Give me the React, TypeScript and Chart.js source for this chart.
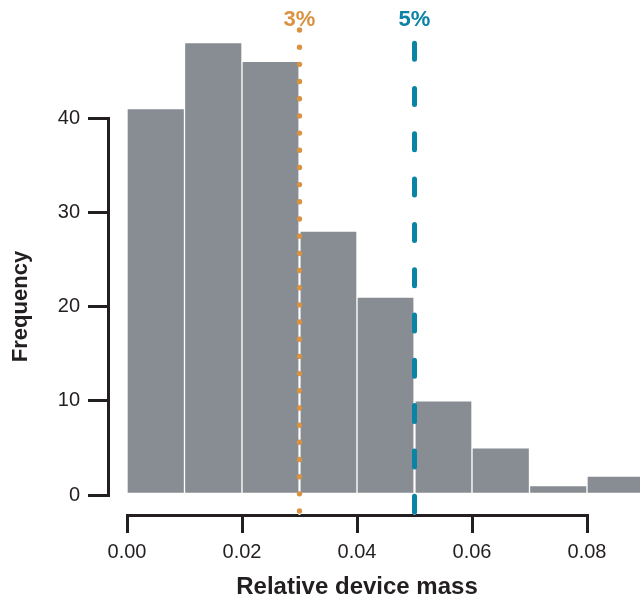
import React, { useEffect, useRef } from 'react';
import { Chart, registerables } from 'chart.js';

Chart.register(...registerables);

// ---- data ----
const BIN_CENTERS = [0.005, 0.015, 0.025, 0.035, 0.045, 0.055, 0.065, 0.075, 0.085];
const FREQUENCY = [41, 48, 46, 28, 21, 10, 5, 1, 2];
const X_TICKS = [0, 0.02, 0.04, 0.06, 0.08];
const Y_TICKS = [0, 10, 20, 30, 40];
const THRESHOLDS = [0.03, 0.05];
const THRESHOLD_LABELS = ['3%', '5%'];

// ---- styles ----
const FONT = "'Liberation Sans', Arial, Helvetica, sans-serif";
const INK = '#231f20';
const BAR = '#878d92';
const THRESHOLD_STYLES = [
  { color: '#da9241', kind: 'dots', step: 17.18, top: 30, bottom: 512 },
  { color: '#0a83a5', kind: 'dash', dash: [16, 29.3], top: 43.2, bottom: 513 },
];

const thresholdPlugin = {
  id: 'thresholds',
  afterDatasetsDraw(chart: any) {
    const { ctx, scales } = chart;
    const xs = scales.x;
    const axisY = xs.top;
    ctx.save();
    THRESHOLDS.forEach((v, i) => {
      const st: any = THRESHOLD_STYLES[i];
      const px = xs.getPixelForValue(v);
      // white underlay
      ctx.beginPath();
      ctx.setLineDash([]);
      ctx.strokeStyle = '#ffffff';
      ctx.lineWidth = 2;
      ctx.moveTo(px, st.top);
      ctx.lineTo(px, axisY);
      ctx.stroke();
      if (st.kind === 'dots') {
        ctx.fillStyle = st.color;
        for (let y = st.top; y <= st.bottom + 0.5; y += st.step) {
          ctx.beginPath();
          ctx.arc(px, y, 2.7, 0, Math.PI * 2);
          ctx.fill();
        }
      } else {
        ctx.beginPath();
        ctx.setLineDash(st.dash);
        ctx.lineCap = 'round';
        ctx.strokeStyle = st.color;
        ctx.lineWidth = 5;
        ctx.moveTo(px, st.top);
        ctx.lineTo(px, st.bottom);
        ctx.stroke();
        ctx.setLineDash([]);
      }
      // label
      ctx.fillStyle = st.color;
      ctx.font = `bold 22px ${FONT}`;
      ctx.textAlign = 'center';
      ctx.textBaseline = 'middle';
      ctx.fillText(THRESHOLD_LABELS[i], px, 20);
    });
    ctx.restore();
  },
};

export default function App() {
  const ref = useRef<HTMLCanvasElement>(null);

  useEffect(() => {
    const canvas = ref.current;
    if (!canvas) return;
    const chart = new Chart(canvas, {
      type: 'bar',
      data: {
        datasets: [
          {
            data: BIN_CENTERS.map((x, i) => ({ x, y: FREQUENCY[i] })),
            backgroundColor: BAR,
            borderColor: '#ffffff',
            borderWidth: 1,
            borderSkipped: false,
            barPercentage: 1,
            categoryPercentage: 1,
            clip: false as any,
            xAxisID: 'x',
            yAxisID: 'y',
          } as any,
        ],
      },
      options: {
        responsive: false,
        animation: false,
        events: [],
        devicePixelRatio: 1,
        layout: { padding: { left: 0, top: 118, right: 53, bottom: 0 } },
        plugins: {
          legend: { display: false },
          tooltip: { enabled: false },
        },
        scales: {
          y: {
            type: 'linear',
            position: 'left',
            weight: 1,
            min: 0,
            max: 40,
            afterBuildTicks: (s: any) => {
              s.ticks = Y_TICKS.map((value) => ({ value }));
            },
            ticks: {
              font: { family: FONT, size: 20 },
              color: INK,
              padding: 8,
            },
            grid: {
              drawOnChartArea: false,
              tickLength: 20,
              lineWidth: 3,
              color: INK,
            },
            border: { display: true, width: 3, color: INK },
            title: {
              display: true,
              text: 'Frequency',
              font: { family: FONT, size: 22, weight: 'bold' },
              color: INK,
              padding: { top: 8, bottom: 0 },
            },
            afterFit: (s: any) => {
              s.width = 108;
            },
          },
          yGap: {
            type: 'linear',
            axis: 'y',
            position: 'left',
            weight: 0,
            ticks: { display: false },
            grid: { display: false },
            border: { display: false },
            afterFit: (s: any) => {
              s.width = 19;
            },
          },
          x: {
            type: 'linear',
            position: 'bottom',
            weight: 1,
            min: 0,
            max: 0.08,
            offset: false,
            afterBuildTicks: (s: any) => {
              s.ticks = X_TICKS.map((value) => ({ value }));
            },
            ticks: {
              font: { family: FONT, size: 20 },
              color: INK,
              padding: 7,
              maxRotation: 0,
              autoSkip: false,
              callback: (v: any) => Number(v).toFixed(2),
            },
            grid: {
              drawOnChartArea: false,
              offset: false,
              tickLength: 18,
              lineWidth: 3,
              color: INK,
            },
            border: { display: true, width: 3, color: INK },
            title: {
              display: true,
              text: 'Relative device mass',
              font: { family: FONT, size: 24, weight: 'bold' },
              color: INK,
              padding: { top: 0, bottom: 0 },
            },
            afterFit: (s: any) => {
              s.height = 87;
            },
          },
          xGap: {
            type: 'linear',
            axis: 'x',
            position: 'bottom',
            weight: 0,
            ticks: { display: false },
            grid: { display: false },
            border: { display: false },
            afterFit: (s: any) => {
              s.height = 20;
            },
          },
        } as any,
      },
      plugins: [thresholdPlugin],
    });
    return () => chart.destroy();
  }, []);

  return (
    <div
      style={{
        position: 'fixed',
        left: 0,
        top: 0,
        width: 640,
        height: 602,
        overflow: 'hidden',
        background: '#ffffff',
      }}
    >
      <canvas ref={ref} width={640} height={602} style={{ display: 'block' }} />
    </div>
  );
}
